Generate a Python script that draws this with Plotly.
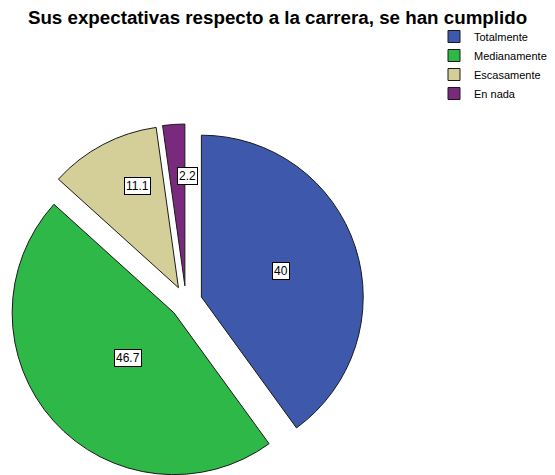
import math
import plotly.graph_objects as go

title = "Sus expectativas respecto a la carrera, se han cumplido"
categories = ["Totalmente", "Medianamente", "Escasamente", "En nada"]
values = [40.0, 46.7, 11.1, 2.2]
value_labels = ["40", "46.7", "11.1", "2.2"]

colors = ["#3E58AC", "#2EB848", "#D4CE98", "#7A2A7D"]
W, H = 555, 475
pull = 0.1
# pie box in figure pixels (page body adds an 8px offset)
box_x = [0, 356]
box_y = [116, 472]
dom_x = [box_x[0] / W, box_x[1] / W]
dom_y = [1 - box_y[1] / H, 1 - box_y[0] / H]
label_k = [0.52, 0.50, 0.714, 0.683]

fig = go.Figure()
fig.add_trace(go.Pie(
    labels=categories,
    values=values,
    sort=False,
    direction="clockwise",
    rotation=0,
    pull=[pull] * len(values),
    marker=dict(colors=colors, line=dict(color="#1a1a1a", width=1)),
    textinfo="none",
    hoverinfo="label+value",
    domain=dict(x=dom_x, y=dom_y),
))

# label boxes placed from the data angles and the pie geometry
cx = W * (dom_x[0] + dom_x[1]) / 2
cy = H * (1 - (dom_y[0] + dom_y[1]) / 2)
r = min(W * (dom_x[1] - dom_x[0]), H * (dom_y[1] - dom_y[0])) / 2 / (1 + pull)
total = sum(values)
cum = 0.0
for v, lab, k in zip(values, value_labels, label_k):
    theta = math.radians(360 * (cum + v / 2) / total)
    cum += v
    dist = pull * r + k * r
    px = cx + math.sin(theta) * dist
    py = cy - math.cos(theta) * dist
    fig.add_annotation(
        x=px / W, y=1 - py / H, xref="paper", yref="paper",
        text=lab, showarrow=False,
        font=dict(family="Liberation Sans, Arial", size=12, color="black"),
        bgcolor="white", bordercolor="black", borderwidth=1, borderpad=1,
    )

fig.update_layout(
    width=W, height=H,
    margin=dict(l=0, r=0, t=0, b=0, autoexpand=False),
    paper_bgcolor="white", plot_bgcolor="white",
    title=dict(text="<b>" + title + "</b>", x=269.5 / W, xanchor="center",
               y=1 - 2.5 / H, yanchor="top",
               font=dict(family="Liberation Sans, Arial", size=18.75, color="black")),
    showlegend=True,
    legend=dict(x=426 / W, y=1 - 14 / H, xanchor="left", yanchor="top",
                font=dict(family="Liberation Sans, Arial", size=11, color="black"),
                bgcolor="rgba(0,0,0,0)", itemwidth=30, tracegroupgap=0),
)

fig.write_html("out.html")
